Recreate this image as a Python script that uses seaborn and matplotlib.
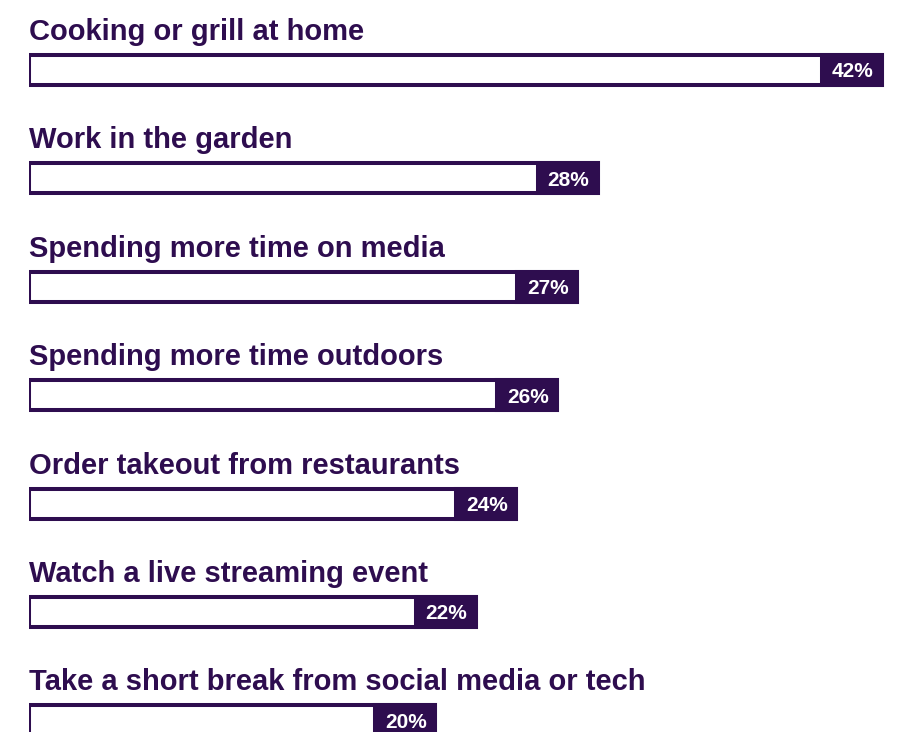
import matplotlib
matplotlib.use("Agg")
import matplotlib.pyplot as plt
from matplotlib import font_manager
import seaborn as sns
import pandas as pd

activities = [
    "Cooking or grill at home",
    "Work in the garden",
    "Spending more time on media",
    "Spending more time outdoors",
    "Order takeout from restaurants",
    "Watch a live streaming event",
    "Take a short break from social media or tech",
]
shares = [42, 28, 27, 26, 24, 22, 20]

PURPLE = "#2e0d4f"

sns.set_theme(style="white")
plt.rcParams["font.family"] = ["Liberation Sans", "DejaVu Sans"]


def bold_font(size):
    """Return a bold Arial-metric font, looked up by file so it is always found."""
    for f in font_manager.fontManager.ttflist:
        if f.name == "Liberation Sans" and f.weight in (700, "bold") and f.style == "normal":
            return font_manager.FontProperties(fname=f.fname, size=size)
    return font_manager.FontProperties(family="Liberation Sans", weight="bold", size=size)


df = pd.DataFrame({"activity": activities, "share": shares})

W, H, DPI = 905, 732, 100
fig = plt.figure(figsize=(W / DPI, H / DPI), dpi=DPI)
fig.patch.set_facecolor("white")
ax = fig.add_axes([29 / W, 0, 1 - 29 / W, 1])

px_per_unit = 853 / 42          # horizontal scale
row_px = 108.4                  # vertical distance between rows
first_px = 70                   # centre of the first bar from the top
bar_h = 30 / row_px

sns.barplot(data=df, x="share", y="activity", orient="h", color="white",
            edgecolor=PURPLE, linewidth=2.9, width=bar_h, saturation=1, ax=ax)

# value tag at the end of each bar
tag_w = 60 / px_per_unit
ax.barh(range(len(shares)), [tag_w] * len(shares),
        left=[v - tag_w for v in shares], height=bar_h,
        color=PURPLE, edgecolor=PURPLE, linewidth=2.9, zorder=3)

label_fp = bold_font(21)
value_fp = bold_font(15)

for i, (name, v) in enumerate(zip(activities, shares)):
    ax.text(v - tag_w / 2 + 0.03, i + 7.5 / row_px, f"{v}%", color="white",
            fontproperties=value_fp, ha="center", va="baseline", zorder=4)
    ax.text(0.0, i - 30 / row_px, name, color=PURPLE,
            fontproperties=label_fp, ha="left", va="baseline")

ax.set_xlim(0, (W - 29) / px_per_unit)
ax.set_ylim((H - first_px) / row_px, -first_px / row_px)
ax.set_xlabel("")
ax.set_ylabel("")
ax.set_xticks([])
ax.set_yticks([])
for s in ax.spines.values():
    s.set_visible(False)
ax.set_facecolor("white")

fig.savefig("out.png", dpi=DPI)
